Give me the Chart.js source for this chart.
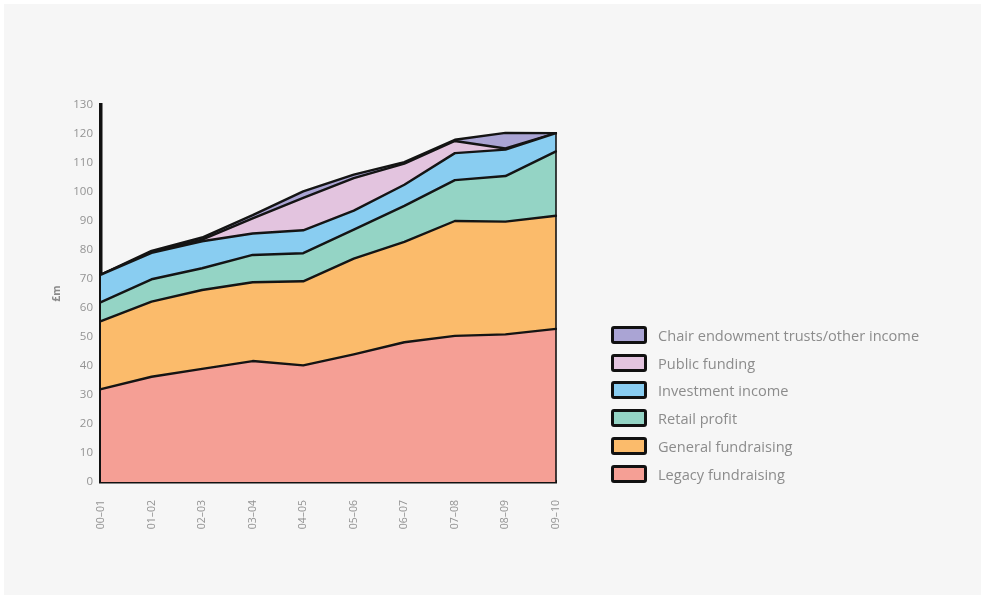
<!DOCTYPE html>
<html>
<head>
<meta charset="utf-8">
<script src="https://cdn.jsdelivr.net/npm/chart.js@4.4.1/dist/chart.umd.min.js"></script>
<style>
  html, body { margin: 0; padding: 0; background: #ffffff; }
  #frame { position: absolute; left: 4px; top: 4px; width: 977px; height: 591px; background: #f6f6f6; }
  #wrap { position: absolute; left: 0; top: 0; width: 985px; height: 599px; }
  #legend { position: absolute; left: 611px; top: 321px; font-family: "Open Sans", sans-serif; font-size: 14.6px; color: #8c8c8c; }
  #legend .item { height: 27.8px; display: flex; align-items: center; }
  #legend .sw { width: 36px; height: 18px; border: 3px solid #111; border-radius: 3px; margin-right: 11px; box-sizing: border-box; }
</style>
</head>
<body>
<div id="frame"></div>
<div id="wrap"><canvas id="c" width="985" height="599"></canvas></div>
<div id="legend"></div>
<script>
// Income by source, £m, financial years 2000-01 to 2009-10
const years = ["00–01", "01–02", "02–03", "03–04", "04–05", "05–06", "06–07", "07–08", "08–09", "09–10"];
const legacy     = [32.0, 36.3, 39.0, 41.7, 40.2, 44.0, 48.2, 50.4, 50.9, 52.8];
const general    = [23.5, 25.9, 27.2, 27.2, 29.0, 33.0, 34.6, 39.6, 38.9, 39.0];
const retail     = [6.5, 7.7, 7.5, 9.4, 9.7, 10.0, 12.4, 14.1, 15.7, 22.2];
const investment = [9.5, 9.1, 9.3, 7.4, 7.9, 6.6, 7.3, 9.3, 9.1, 6.3];
const publicFund = [0.0, 0.3, 0.6, 5.2, 11.2, 11.2, 7.3, 4.2, 0.4, 0.0];
const chair      = [0.0, 0.4, 0.7, 1.1, 2.2, 1.2, 0.5, 0.4, 5.4, 0.0];
const yTicks = [0, 10, 20, 30, 40, 50, 60, 70, 80, 90, 100, 110, 120, 130];

const series = [
  { label: "Legacy fundraising", data: legacy, color: "#f59f95" },
  { label: "General fundraising", data: general, color: "#fbbb6b" },
  { label: "Retail profit", data: retail, color: "#94d4c5" },
  { label: "Investment income", data: investment, color: "#89cdf1" },
  { label: "Public funding", data: publicFund, color: "#e3c4df" },
  { label: "Chair endowment trusts/other income", data: chair, color: "#aaa4d4" }
];

const datasets = series.map((s, i) => ({
  label: s.label,
  data: s.data,
  backgroundColor: s.color,
  borderColor: "#141414",
  borderWidth: 2.4,
  fill: i === 0 ? "origin" : "-1",
  pointRadius: 0,
  tension: 0,
  borderJoinStyle: "round",
  borderCapStyle: "round"
}));

// Closing stroke along the right-hand end of the stacked areas
const endEdge = {
  id: "endEdge",
  afterDatasetsDraw(chart) {
    const x = chart.scales.x, y = chart.scales.y;
    const last = years.length - 1;
    const total = series.reduce((sum, s) => sum + s.data[last], 0);
    const px = x.getPixelForValue(last);
    const ctx = chart.ctx;
    ctx.save();
    ctx.strokeStyle = "#141414";
    ctx.lineWidth = 1.6;
    ctx.beginPath();
    ctx.moveTo(px, y.getPixelForValue(0));
    ctx.lineTo(px, y.getPixelForValue(total));
    ctx.stroke();
    ctx.restore();
  }
};

const font = { family: "'Open Sans', sans-serif" };

new Chart(document.getElementById("c"), {
  type: "line",
  data: { labels: years, datasets },
  plugins: [endEdge],
  options: {
    responsive: false,
    animation: false,
    layout: { padding: { left: 51, right: 429, top: 105, bottom: 47 } },
    plugins: { legend: { display: false }, tooltip: { enabled: false } },
    scales: {
      x: {
        offset: false,
        grid: { display: false, drawTicks: false },
        border: { display: true, color: "#111", width: 3.5 },
        ticks: { color: "#939393", font: { ...font, size: 10.5 }, maxRotation: 90, minRotation: 90, padding: 18 },
        afterFit: s => { s.height = 70; }
      },
      y: {
        stacked: true,
        min: 0,
        max: 130,
        grid: { display: false, drawTicks: false },
        border: { display: true, color: "#111", width: 3.5 },
        afterBuildTicks: s => { s.ticks = yTicks.map(v => ({ value: v })); },
        ticks: { color: "#939393", font: { ...font, size: 11.5 }, padding: 8 },
        title: { display: true, text: "£m", color: "#8a8a8a", font: { ...font, size: 10.5, weight: "bold" }, padding: 0 },
        afterFit: s => { s.width = 50; }
      }
    }
  }
});

// Legend, top entry first
const leg = document.getElementById("legend");
series.slice().reverse().forEach(s => {
  const row = document.createElement("div");
  row.className = "item";
  const sw = document.createElement("span");
  sw.className = "sw";
  sw.style.background = s.color;
  const tx = document.createElement("span");
  tx.textContent = s.label;
  row.appendChild(sw);
  row.appendChild(tx);
  leg.appendChild(row);
});
</script>
</body>
</html>
